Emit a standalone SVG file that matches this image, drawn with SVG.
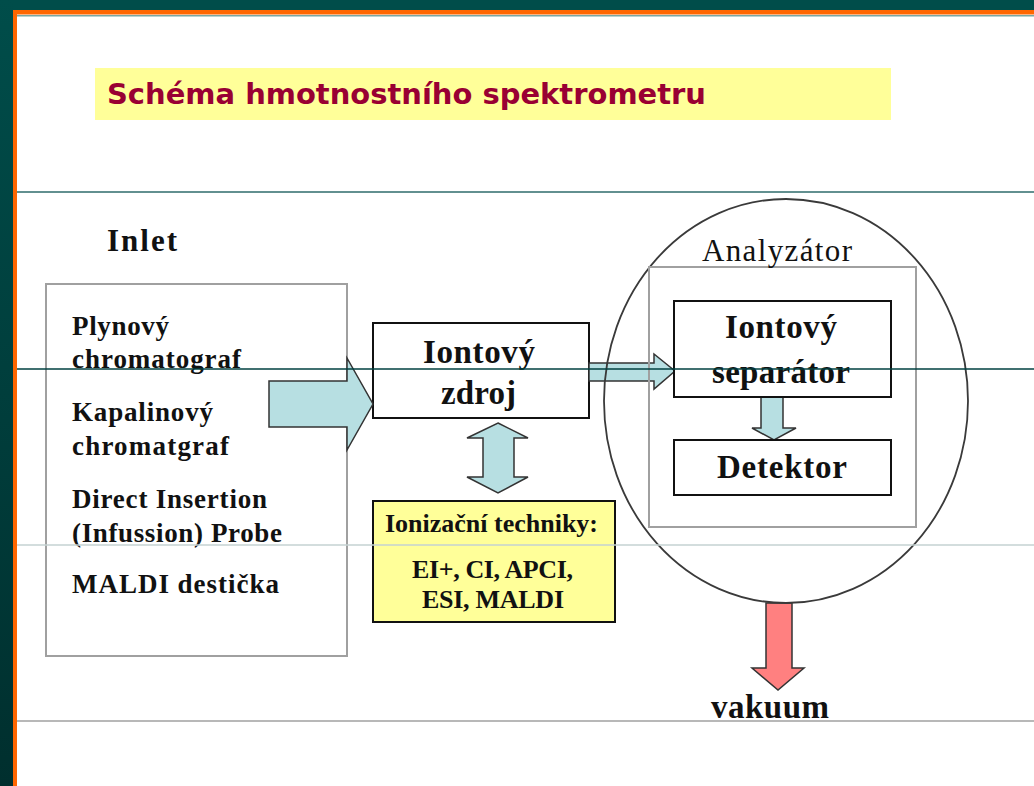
<svg xmlns="http://www.w3.org/2000/svg" width="1034" height="786" viewBox="0 0 1034 786">
<defs>
<linearGradient id="band" x1="0" y1="0" x2="0" y2="1">
<stop offset="0" stop-color="#004d4a"/>
<stop offset="1" stop-color="#002f2e"/>
</linearGradient>
<style>
.serif{font-family:"Liberation Serif","Times New Roman",serif;font-weight:bold;fill:#111}
.reg{font-family:"Liberation Serif","Times New Roman",serif;font-weight:normal;fill:#111}
.box{fill:#fff;stroke:#111;stroke-width:2}
.ybox{fill:#ffff99;stroke:#111;stroke-width:2}
.gbox{fill:none;stroke:#a0a0a0;stroke-width:2}
.arrow{fill:#b7dfe2;stroke:#333;stroke-width:1.5;stroke-linejoin:miter}
.red{fill:#ff8080;stroke:#333;stroke-width:1.5}
.rule{stroke-width:1.5}
</style>
</defs>
<rect x="0" y="0" width="1034" height="786" fill="#fff"/>
<rect x="0" y="0" width="1034" height="10" fill="#004d4a"/>
<rect x="0" y="0" width="13" height="786" fill="url(#band)"/>
<rect x="13" y="10" width="1021" height="4.5" fill="#ff6600"/>
<rect x="13" y="10" width="4" height="776" fill="#ff6600"/>
<rect x="17" y="15" width="1017" height="1.5" fill="#7aa6a0"/>

<g id="title">
<rect x="95" y="68" width="796" height="52" fill="#ffff99"/>
<text x="107" y="104" font-family="DejaVu Sans, Verdana, sans-serif" font-weight="bold" font-size="29" fill="#990033" textLength="599" lengthAdjust="spacingAndGlyphs">Schéma hmotnostního spektrometru</text>
</g>

<g id="inlet">
<text class="serif" x="107" y="251" font-size="31" textLength="70" lengthAdjust="spacing">Inlet</text>
<rect class="gbox" x="46" y="284" width="301" height="372" fill="#fff"/>
<text class="serif" x="72" y="335" font-size="27" textLength="97" lengthAdjust="spacing">Plynový</text>
<text class="serif" x="72" y="368" font-size="27" textLength="169" lengthAdjust="spacing">chromatograf</text>
<text class="serif" x="72" y="421" font-size="27" textLength="141" lengthAdjust="spacing">Kapalinový</text>
<text class="serif" x="72" y="455" font-size="27" textLength="157" lengthAdjust="spacing">chromatgraf</text>
<text class="serif" x="72" y="508" font-size="27" textLength="195" lengthAdjust="spacing">Direct Insertion</text>
<text class="serif" x="72" y="542" font-size="27" textLength="210" lengthAdjust="spacing">(Infussion) Probe</text>
<text class="serif" x="72" y="593" font-size="27" textLength="207" lengthAdjust="spacing">MALDI destička</text>
</g>

<g id="ion-source">
<rect class="box" x="373" y="323" width="216" height="95"/>
<text class="serif" x="423" y="363" font-size="33" textLength="112" lengthAdjust="spacing">Iontový</text>
<text class="serif" x="441" y="404" font-size="33" textLength="75" lengthAdjust="spacing">zdroj</text>
</g>

<g id="ionization">
<rect class="ybox" x="373" y="501" width="242" height="121"/>
<text class="serif" x="385" y="532" font-size="26" textLength="213" lengthAdjust="spacing">Ionizační techniky:</text>
<text class="serif" x="412" y="578" font-size="26" textLength="161" lengthAdjust="spacing">EI+, CI, APCI,</text>
<text class="serif" x="422" y="608" font-size="26" textLength="142" lengthAdjust="spacing">ESI, MALDI</text>
</g>

<g id="connectors">
<polygon class="arrow" points="269,381 347,381 347,358 373,404 347,450 347,427 269,427"/>
<polygon class="arrow" points="498,423 528,438 514,438 514,477 528,477 498,493 467,477 483,477 483,438 467,438"/>
<polygon class="arrow" points="589,363 654,363 654,354 675,371 654,389 654,381 589,381"/>
<polygon class="arrow" points="761,397 783,397 783,428 796,428 774,440 752,428 761,428"/>
<polygon class="red" points="766,603 792,603 792,668 804,668 778,690 752,668 766,668"/>
</g>

<g id="analyzer">
<ellipse cx="786" cy="401" rx="182" ry="202" fill="none" stroke="#3a3a3a" stroke-width="1.8"/>
<rect class="gbox" x="649" y="267" width="267" height="260"/>
<text class="reg" x="702" y="261" font-size="31" textLength="150" lengthAdjust="spacing">Analyzátor</text>
</g>

<g id="separator">
<rect class="box" x="674" y="301" width="217" height="96"/>
<text class="serif" x="725" y="338" font-size="33" textLength="112" lengthAdjust="spacing">Iontový</text>
<text class="serif" x="712" y="383" font-size="33" textLength="138" lengthAdjust="spacing">separátor</text>
</g>

<g id="detector">
<rect class="box" x="674" y="440" width="217" height="55"/>
<text class="serif" x="717" y="478" font-size="33" textLength="130" lengthAdjust="spacing">Detektor</text>
</g>

<g id="vacuum">
<text class="serif" x="711" y="718" font-size="33" textLength="118" lengthAdjust="spacing">vakuum</text>
</g>

<g id="rules">
<line class="rule" x1="17" y1="192" x2="1034" y2="192" stroke="#2e6b6b"/>
<line class="rule" x1="17" y1="369" x2="1034" y2="369" stroke="#004040"/>
<line class="rule" x1="17" y1="545" x2="1034" y2="545" stroke="#c4d2d2"/>
<line class="rule" x1="17" y1="721" x2="1034" y2="721" stroke="#a0a0a0"/>
</g>
</svg>
